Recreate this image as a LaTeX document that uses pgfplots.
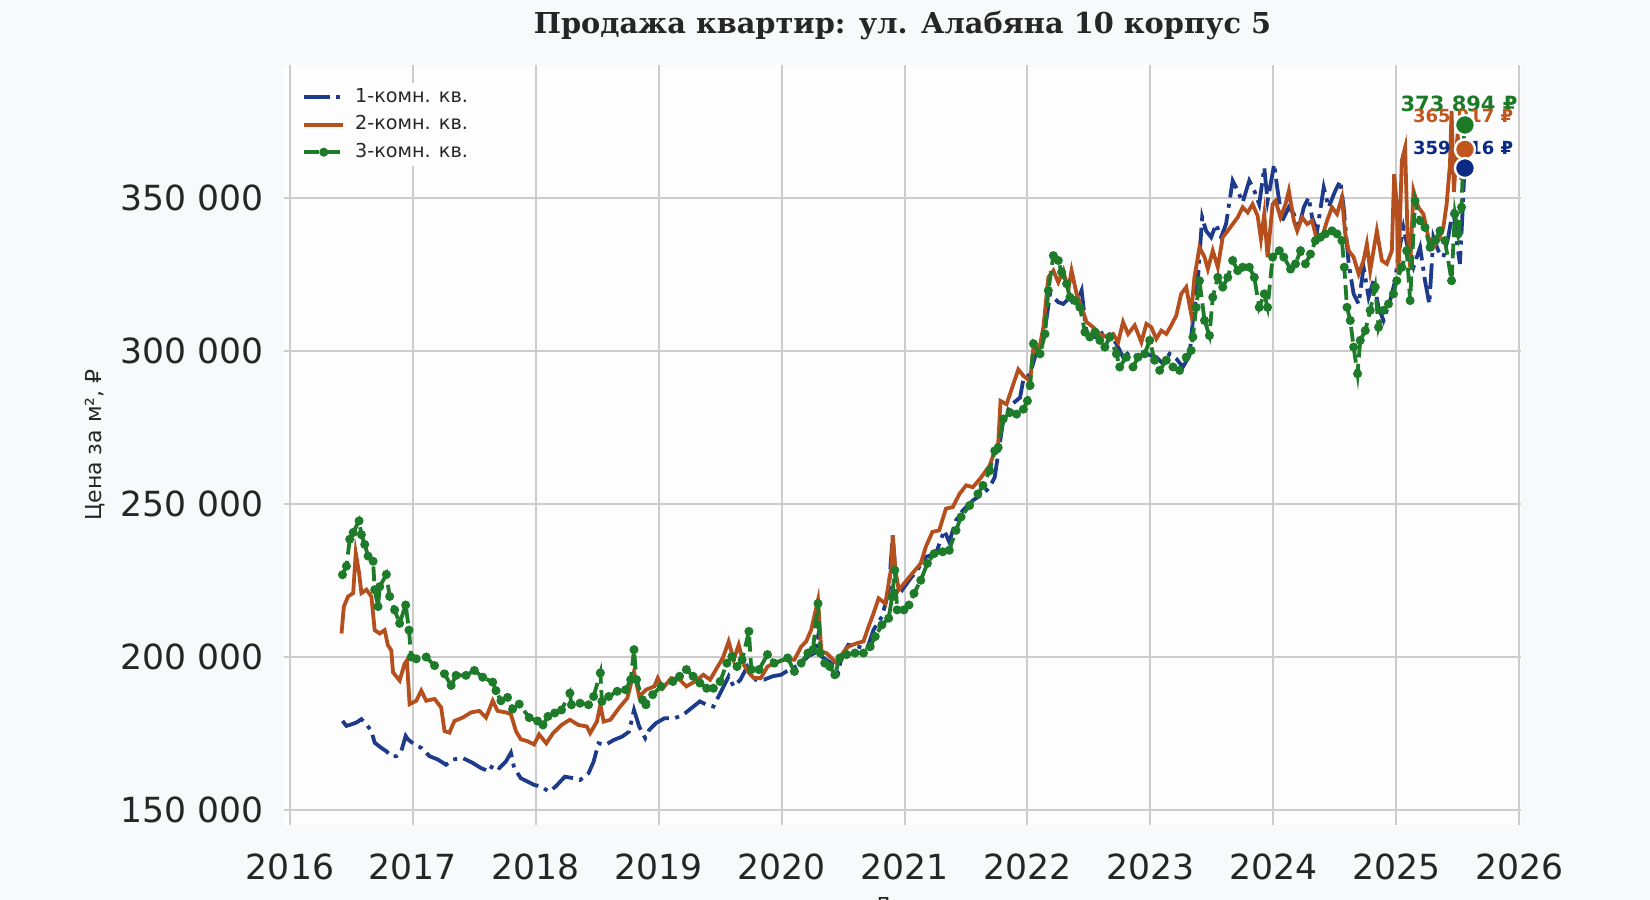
\documentclass[border=0pt]{standalone}
\usepackage{fontspec}
\setmainfont{DejaVu Sans}
\newfontfamily\titlefont{DejaVu Serif}
\usepackage{pgfplots}
\pgfplotsset{compat=1.18}

\definecolor{figbg}{HTML}{F8F9FB}
\definecolor{axbg}{HTML}{FDFDFE}
\definecolor{gridgray}{HTML}{CCCCCC}
\definecolor{textgray}{HTML}{262626}
\definecolor{blueL}{HTML}{1E3A8A}
\definecolor{orangeL}{HTML}{B5501E}
\definecolor{greenL}{HTML}{1E7B2A}
\definecolor{blueA}{HTML}{0A2A84}
\definecolor{orangeA}{HTML}{C0561E}
\definecolor{greenA}{HTML}{1C7A26}

\pgfplotsset{
  legend image code/.code={%
    \draw[mark repeat=2,mark phase=2,#1] plot coordinates {(0pt,0pt) (9.75pt,0pt) (19.5pt,0pt)};}
}

\begin{document}
\begin{tikzpicture}
\path[use as bounding box, fill=figbg] (-142pt,-37.5pt) rectangle (683pt,412.5pt);
\begin{axis}[
    at={(0pt,0pt)}, anchor=south west,
    scale only axis,
    width=618.5pt, height=380pt,
    xmin=2015.951, xmax=2026.016,
    ymin=145100, ymax=393500,
    xtick={2016,2017,2018,2019,2020,2021,2022,2023,2024,2025,2026},
    xticklabels={2016,2017,2018,2019,2020,2021,2022,2023,2024,2025,2026},
    ytick={150000,200000,250000,300000,350000},
    yticklabels={150 000,200 000,250 000,300 000,350 000},
    scaled y ticks=false,
    scaled x ticks=false,
    clip=false,
    axis background/.style={fill=axbg},
    axis line style={draw=none},
    major tick length=0pt,
    grid=major,
    major grid style={draw=gridgray, line width=1pt},
    ticklabel style={font=\fontsize{17.3}{20}\selectfont, text=textgray},
    x tick label style={yshift=-10.9pt},
    y tick label style={xshift=-6.5pt},
    title={Продажа квартир: ул. Алабяна 10 корпус 5},
    title style={at={(axis description cs:0.5,1)}, anchor=center, yshift=13.5pt,
      font=\titlefont\bfseries\fontsize{14.4}{17}\selectfont, text=textgray},
    ylabel={Цена за м², ₽},
    ylabel style={at={(axis description cs:-0.1528,0.5)}, anchor=center,
      font=\fontsize{11}{13}\selectfont, text=textgray},
    xlabel={Дата},
    xlabel style={at={(axis description cs:0.5,0)}, anchor=north, yshift=-36pt,
      inner sep=0pt, font=\fontsize{11}{13}\selectfont, text=textgray},
    legend cell align=left,
    legend style={at={(axis description cs:0,1)}, anchor=north west,
      xshift=6pt, yshift=-9pt, draw=none, fill=axbg,
      font=\fontsize{9.6}{11}\selectfont, text=textgray,
      nodes={inner ysep=0.5pt, text height=7pt, text depth=2pt},
      /tikz/every odd column/.append style={column sep=3pt},
      row sep=3.7pt},
]

% 1-комн. кв.
\addplot[blueL, line width=1.9pt, dash pattern=on 12.8pt off 3.2pt on 2pt off 3.2pt]
coordinates {
(2016.427,179100) (2016.459,177500) (2016.500,178000) (2016.541,178600) (2016.581,179700)
(2016.622,178000) (2016.662,175800) (2016.689,172000) (2016.743,170300) (2016.784,169200)
(2016.824,167600) (2016.865,167600) (2016.905,169200) (2016.941,174200) (2016.959,173100)
(2017.014,171400) (2017.068,170300) (2017.135,167600) (2017.203,166500) (2017.270,164800)
(2017.324,166500) (2017.405,167000) (2017.486,165400) (2017.554,163700) (2017.622,162600)
(2017.649,164800) (2017.703,163700) (2017.757,165900) (2017.797,168700) (2017.824,163700)
(2017.878,160400) (2017.932,159300) (2017.986,158200) (2018.041,157700) (2018.108,156000)
(2018.162,157700) (2018.236,160900) (2018.305,160400) (2018.360,159800) (2018.429,162000)
(2018.470,165800) (2018.511,171800) (2018.566,171300) (2018.635,172900) (2018.703,174000)
(2018.758,175600) (2018.799,182700) (2018.841,177300) (2018.890,173500) (2018.923,176200)
(2018.978,178400) (2019.047,180000) (2019.129,180000) (2019.198,181100) (2019.266,183300)
(2019.335,185500) (2019.390,184400) (2019.445,183800) (2019.514,189300) (2019.569,193700)
(2019.610,190400) (2019.665,192600) (2019.720,196900) (2019.788,192600) (2019.857,192600)
(2019.926,193700) (2019.995,194200) (2020.063,195900) (2020.146,197500) (2020.214,200200)
(2020.268,201300) (2020.296,206700) (2020.323,200200) (2020.405,198000) (2020.460,194800)
(2020.488,200200) (2020.542,204000) (2020.625,203400) (2020.693,202400) (2020.748,208900)
(2020.816,213200) (2020.871,221300) (2020.904,239800) (2020.932,224000) (2020.981,221900)
(2021.049,225700) (2021.104,228400) (2021.173,232700) (2021.255,233800) (2021.323,241400)
(2021.364,237600) (2021.419,244700) (2021.474,247900) (2021.556,251200) (2021.638,253300)
(2021.693,255500) (2021.734,258800) (2021.762,266400) (2021.803,277200) (2021.858,282100)
(2021.940,284800) (2021.967,290800) (2022.022,292400) (2022.076,300200) (2022.130,303500)
(2022.184,318700) (2022.211,317600) (2022.251,316000) (2022.292,315400) (2022.346,317600)
(2022.386,314300) (2022.441,319800) (2022.481,305600) (2022.549,304600) (2022.643,306700)
(2022.724,302400) (2022.778,298000) (2022.832,299700) (2022.900,298000) (2022.968,299100)
(2023.049,298000) (2023.103,295900) (2023.157,299100) (2023.211,297500) (2023.265,294800)
(2023.319,298600) (2023.346,310000) (2023.386,323000) (2023.422,343700) (2023.454,339300)
(2023.495,337200) (2023.535,341500) (2023.576,337200) (2023.616,341500) (2023.670,355700)
(2023.711,352400) (2023.751,348600) (2023.805,355700) (2023.846,352400) (2023.886,348000)
(2023.927,360000) (2023.954,349100) (2024.008,361100) (2024.032,353500) (2024.073,342600)
(2024.127,347000) (2024.168,344800) (2024.208,340400) (2024.249,347000) (2024.289,350200)
(2024.316,343700) (2024.357,339300) (2024.411,353500) (2024.451,347000) (2024.505,352400)
(2024.546,355700) (2024.573,347000) (2024.614,328500) (2024.654,318700) (2024.695,315400)
(2024.735,327400) (2024.776,317600) (2024.816,323000) (2024.857,314300) (2024.897,310000)
(2024.951,316500) (2024.992,323000) (2025.019,331700) (2025.059,340400) (2025.100,332800)
(2025.141,327400) (2025.195,333900) (2025.235,323000) (2025.270,315400) (2025.303,337200)
(2025.343,332800) (2025.384,330700) (2025.424,337200) (2025.465,347000) (2025.492,336100)
(2025.519,328500) (2025.540,345000) (2025.556,359816)
};
\addlegendentry{1-комн. кв.}

% 2-комн. кв.
\addplot[orangeL, line width=1.9pt]
coordinates {
(2016.419,207700) (2016.438,216500) (2016.473,219800) (2016.514,220900) (2016.535,234000)
(2016.562,227500) (2016.581,220900) (2016.622,222000) (2016.662,219800) (2016.689,208800)
(2016.730,207700) (2016.770,208800) (2016.797,203800) (2016.824,202200) (2016.838,195000)
(2016.892,192300) (2016.932,197800) (2016.951,198900) (2016.973,184600) (2017.027,185700)
(2017.068,189000) (2017.108,185700) (2017.176,186300) (2017.230,183500) (2017.257,175800)
(2017.297,175300) (2017.338,179100) (2017.405,180200) (2017.473,181900) (2017.541,182400)
(2017.595,180200) (2017.649,185700) (2017.689,182400) (2017.757,181900) (2017.797,181300)
(2017.838,175800) (2017.878,173100) (2017.932,172500) (2017.986,171400) (2018.027,174700)
(2018.085,171800) (2018.140,175100) (2018.209,177800) (2018.277,179500) (2018.346,177800)
(2018.415,177300) (2018.442,175100) (2018.497,178900) (2018.525,184400) (2018.552,178900)
(2018.607,179500) (2018.676,183300) (2018.745,186600) (2018.799,195300) (2018.841,187100)
(2018.896,189300) (2018.964,190400) (2018.992,193100) (2019.033,189800) (2019.102,193100)
(2019.170,192600) (2019.225,190400) (2019.294,192000) (2019.363,194200) (2019.418,192600)
(2019.473,196400) (2019.522,199700) (2019.569,205100) (2019.610,199100) (2019.651,204000)
(2019.692,197500) (2019.734,194800) (2019.775,193100) (2019.830,193100) (2019.885,196900)
(2019.940,198000) (2020.022,199100) (2020.104,199100) (2020.159,203400) (2020.200,205100)
(2020.241,208900) (2020.296,218600) (2020.323,201800) (2020.364,201300) (2020.405,199700)
(2020.447,198000) (2020.488,200800) (2020.542,203400) (2020.611,204500) (2020.666,205100)
(2020.707,209900) (2020.748,214300) (2020.789,219200) (2020.844,217500) (2020.893,229500)
(2020.904,239800) (2020.926,228400) (2020.953,221900) (2021.008,224600) (2021.063,227300)
(2021.132,230600) (2021.173,236000) (2021.227,240900) (2021.282,241400) (2021.337,248500)
(2021.392,249000) (2021.447,253300) (2021.501,256100) (2021.556,255500) (2021.625,258800)
(2021.693,262600) (2021.734,267400) (2021.762,269600) (2021.781,283700) (2021.830,282600)
(2021.871,287500) (2021.926,294000) (2021.967,291900) (2022.022,290200) (2022.049,301300)
(2022.089,299100) (2022.130,307800) (2022.170,324100) (2022.211,326300) (2022.251,322500)
(2022.292,326300) (2022.332,319800) (2022.359,326300) (2022.400,318700) (2022.441,314300)
(2022.481,309500) (2022.535,307800) (2022.589,305600) (2022.643,304600) (2022.697,305600)
(2022.738,302900) (2022.778,309500) (2022.819,305600) (2022.873,308400) (2022.927,302900)
(2022.968,308900) (2023.008,307800) (2023.049,304000) (2023.089,306700) (2023.130,305600)
(2023.170,308400) (2023.211,311600) (2023.251,318700) (2023.292,320900) (2023.332,312200)
(2023.359,324100) (2023.400,333900) (2023.441,330700) (2023.468,326800) (2023.508,332800)
(2023.549,327400) (2023.589,337200) (2023.630,339300) (2023.670,341500) (2023.711,343700)
(2023.751,347000) (2023.792,345300) (2023.832,348000) (2023.873,344200) (2023.900,336600)
(2023.927,344800) (2023.954,330700) (2023.995,348000) (2024.019,349100) (2024.059,343700)
(2024.100,348000) (2024.127,352400) (2024.168,342600) (2024.195,339300) (2024.235,343700)
(2024.276,341500) (2024.316,342600) (2024.357,336100) (2024.397,337200) (2024.438,342600)
(2024.478,347000) (2024.519,344800) (2024.559,350200) (2024.586,338300) (2024.614,332800)
(2024.654,330700) (2024.695,325200) (2024.735,329600) (2024.762,335000) (2024.789,326300)
(2024.843,339300) (2024.884,329600) (2024.924,328500) (2024.965,332800) (2024.984,357800)
(2025.005,348000) (2025.019,325200) (2025.046,362200) (2025.073,366500) (2025.092,339300)
(2025.114,327400) (2025.141,352400) (2025.181,347000) (2025.222,344800) (2025.262,337200)
(2025.303,333900) (2025.343,336100) (2025.384,340400) (2025.411,348000) (2025.438,361100)
(2025.451,378500) (2025.470,352000) (2025.500,371000) (2025.530,356000) (2025.556,365917)
};
\addlegendentry{2-комн. кв.}

% 3-комн. кв.
\addplot[greenL, line width=1.9pt, dash pattern=on 7.4pt off 3.2pt, mark=*, mark size=1.25pt, mark options={solid}]
coordinates {
(2016.427,226900) (2016.459,229700) (2016.486,238500) (2016.514,240700) (2016.562,244500)
(2016.581,240000) (2016.608,236800) (2016.635,233000) (2016.676,231300) (2016.689,222000)
(2016.716,216500) (2016.730,223000) (2016.784,227000) (2016.811,219800) (2016.851,215400)
(2016.892,211000) (2016.941,217000) (2016.968,208800) (2016.986,200000) (2017.027,199400)
(2017.108,200000) (2017.176,197200) (2017.257,194500) (2017.311,190700) (2017.351,194000)
(2017.432,194000) (2017.500,195600) (2017.568,193400) (2017.649,191800) (2017.676,189000)
(2017.716,185700) (2017.770,186800) (2017.811,183000) (2017.865,184600) (2017.946,180200)
(2018.014,179100) (2018.058,177800) (2018.099,180600) (2018.154,181700) (2018.209,182700)
(2018.277,188200) (2018.290,184400) (2018.360,184900) (2018.429,184400) (2018.470,187100)
(2018.525,194800) (2018.538,185500) (2018.593,187100) (2018.662,188800) (2018.731,189300)
(2018.772,192600) (2018.799,202400) (2018.819,192600) (2018.868,186000) (2018.896,184400)
(2018.951,187700) (2019.019,190400) (2019.115,192000) (2019.170,193700) (2019.225,195900)
(2019.280,193700) (2019.335,191500) (2019.390,189800) (2019.445,189800) (2019.500,192000)
(2019.555,198000) (2019.596,200200) (2019.637,196900) (2019.679,199100) (2019.734,208400)
(2019.753,195900) (2019.816,195900) (2019.885,200800) (2019.940,198000) (2020.049,199700)
(2020.104,195300) (2020.159,198000) (2020.214,201300) (2020.255,202400) (2020.296,217500)
(2020.315,201300) (2020.351,198000) (2020.392,196900) (2020.433,194200) (2020.474,199700)
(2020.529,200800) (2020.597,201300) (2020.666,201300) (2020.721,203400) (2020.762,206700)
(2020.816,210500) (2020.871,212700) (2020.899,219700) (2020.921,228400) (2020.940,215400)
(2020.995,215400) (2021.036,217000) (2021.077,220800) (2021.132,225100) (2021.186,230600)
(2021.241,233800) (2021.310,234400) (2021.364,234900) (2021.419,241400) (2021.460,245800)
(2021.529,249500) (2021.597,253300) (2021.638,256100) (2021.693,260900) (2021.734,267400)
(2021.762,268500) (2021.803,277800) (2021.858,279900) (2021.912,279400) (2021.967,281000)
(2022.000,283700) (2022.022,288800) (2022.049,302400) (2022.103,299100) (2022.143,305600)
(2022.170,319800) (2022.211,331200) (2022.251,329600) (2022.278,325800) (2022.319,322000)
(2022.346,317600) (2022.386,316500) (2022.427,314300) (2022.468,306200) (2022.508,304600)
(2022.549,306200) (2022.589,303500) (2022.630,301300) (2022.670,304600) (2022.724,299100)
(2022.751,294800) (2022.805,298000) (2022.859,294800) (2022.900,298000) (2022.954,299100)
(2022.995,303500) (2023.035,297000) (2023.076,293700) (2023.130,297000) (2023.184,294800)
(2023.238,293700) (2023.292,298000) (2023.332,300200) (2023.346,304600) (2023.373,314300)
(2023.400,323000) (2023.441,310000) (2023.481,305100) (2023.508,317600) (2023.549,324100)
(2023.589,320900) (2023.630,324100) (2023.670,329600) (2023.711,326300) (2023.751,327400)
(2023.805,327400) (2023.846,324100) (2023.886,314300) (2023.927,318700) (2023.954,314300)
(2023.995,330700) (2024.049,332800) (2024.086,330700) (2024.141,326800) (2024.181,328500)
(2024.222,332800) (2024.262,328500) (2024.303,331700) (2024.343,336100) (2024.384,337200)
(2024.424,338300) (2024.478,339300) (2024.519,338300) (2024.559,336100) (2024.578,327400)
(2024.600,314300) (2024.627,310000) (2024.654,301300) (2024.686,292600) (2024.708,303500)
(2024.749,306700) (2024.789,313300) (2024.830,320900) (2024.857,307800) (2024.897,313300)
(2024.938,315400) (2024.978,318700) (2025.005,323000) (2025.046,327400) (2025.086,332800)
(2025.114,316500) (2025.154,349100) (2025.195,342600) (2025.235,340400) (2025.276,333900)
(2025.316,336100) (2025.357,339300) (2025.397,336100) (2025.451,323000) (2025.478,344800)
(2025.505,338300) (2025.532,347000) (2025.556,373894)
};
\addlegendentry{3-комн. кв.}

% last values
\node[font=\bfseries\fontsize{10.5}{12}\selectfont, text=greenA, yshift=10.5pt] at (axis cs:2025.512,373894) {373 894 ₽};
\node[font=\bfseries\fontsize{9}{11}\selectfont, text=orangeA, yshift=16.5pt] at (axis cs:2025.545,365917) {365 917 ₽};
\node[font=\bfseries\fontsize{9}{11}\selectfont, text=blueA, yshift=10pt] at (axis cs:2025.545,359816) {359 816 ₽};

\addplot[only marks, mark=*, mark size=5pt, mark options={fill=greenA, draw=white, line width=1.2pt}, forget plot]
coordinates {(2025.56,373894)};
\addplot[only marks, mark=*, mark size=5pt, mark options={fill=orangeA, draw=white, line width=1.2pt}, forget plot]
coordinates {(2025.56,365917)};
\addplot[only marks, mark=*, mark size=5pt, mark options={fill=blueA, draw=white, line width=1.2pt}, forget plot]
coordinates {(2025.56,359816)};

\end{axis}
\end{tikzpicture}
\end{document}
